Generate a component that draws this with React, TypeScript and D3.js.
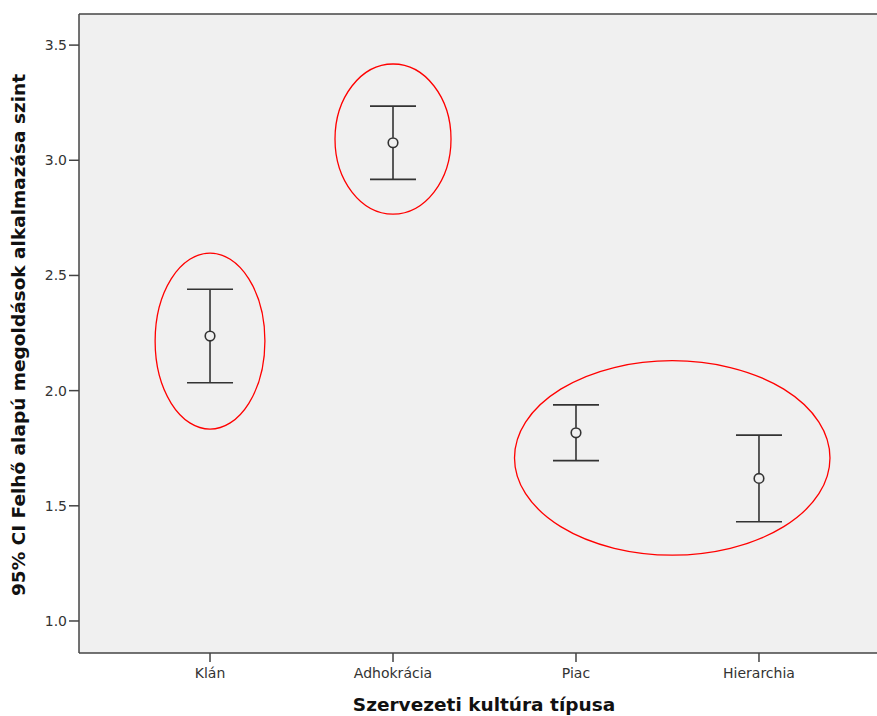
import React from "react";
import * as d3 from "d3";

// Organisational culture types and the 95% confidence intervals of the cloud adoption level
const categories = ["Klán", "Adhokrácia", "Piac", "Hierarchia"];
const means = [2.237, 3.076, 1.817, 1.619];
const lowerCI = [2.034, 2.917, 1.696, 1.431];
const upperCI = [2.440, 3.235, 1.938, 1.807];
const yTicks = [1.0, 1.5, 2.0, 2.5, 3.0, 3.5];

// Highlight rings, given in data units: centre (category index, value), radii (category steps, value units)
const ringCenterIndex = [0, 1, 2.526];
const ringCenterValue = [2.215, 3.092, 1.708];
const ringRadiusSteps = [0.3, 0.317, 0.862];
const ringRadiusValue = [0.382, 0.326, 0.422];

const W = 877;
const H = 716;
const FONT = "'DejaVu Sans', 'Open Sans', sans-serif";

export default function App() {
  const left = 79;
  const right = 890;
  const top = 14;
  const bottom = 653;

  const y = d3.scaleLinear().domain([0.861, 3.635]).range([bottom, top]);
  const x = d3.scalePoint<string>().domain(categories).range([left, right]).padding(0.716);
  const step = x.step();
  const xAt = (i: number) => (x(categories[0]) as number) + i * step;

  const capHalf = 23;
  const axisColor = "#444";
  const barColor = "#333";

  return (
    <svg
      width={W}
      height={H}
      style={{ position: "absolute", left: 0, top: 0, display: "block", background: "#fff" }}
    >
      <rect x={left} y={top} width={right - left} height={bottom - top} fill="#f0f0f0" />
      {/* frame */}
      <line x1={left} x2={right} y1={top} y2={top} stroke={axisColor} strokeWidth={1.5} />
      <line x1={left} x2={right} y1={bottom} y2={bottom} stroke={axisColor} strokeWidth={1.5} />
      <line x1={left} x2={left} y1={top} y2={bottom} stroke={axisColor} strokeWidth={1.5} />
      <line x1={right} x2={right} y1={top} y2={bottom} stroke={axisColor} strokeWidth={1.5} />

      {/* y axis */}
      {yTicks.map((t) => (
        <g key={t}>
          <line x1={left - 10} x2={left} y1={y(t)} y2={y(t)} stroke={axisColor} strokeWidth={1.5} />
          <text
            x={left - 12}
            y={y(t)}
            dy="0.36em"
            textAnchor="end"
            fontFamily={FONT}
            fontSize={14}
            fill="#333"
          >
            {t.toFixed(1)}
          </text>
        </g>
      ))}

      {/* x axis */}
      {categories.map((c) => (
        <g key={c}>
          <line x1={x(c)} x2={x(c)} y1={bottom} y2={bottom + 9} stroke={axisColor} strokeWidth={1.5} />
          <text
            x={x(c)}
            y={bottom + 25}
            textAnchor="middle"
            fontFamily={FONT}
            fontSize={14}
            fill="#333"
          >
            {c}
          </text>
        </g>
      ))}

      {/* error bars */}
      {categories.map((c, i) => {
        const cx = x(c) as number;
        return (
          <g key={c} stroke={barColor} strokeWidth={1.6} fill="none">
            <line x1={cx} x2={cx} y1={y(upperCI[i])} y2={y(means[i]) - 5} />
            <line x1={cx} x2={cx} y1={y(means[i]) + 5} y2={y(lowerCI[i])} />
            <line x1={cx - capHalf} x2={cx + capHalf} y1={y(upperCI[i])} y2={y(upperCI[i])} />
            <line x1={cx - capHalf} x2={cx + capHalf} y1={y(lowerCI[i])} y2={y(lowerCI[i])} />
            <circle cx={cx} cy={y(means[i])} r={4.8} />
          </g>
        );
      })}

      {/* highlight rings */}
      {ringCenterIndex.map((ci, k) => (
        <ellipse
          key={k}
          cx={xAt(ci)}
          cy={y(ringCenterValue[k])}
          rx={ringRadiusSteps[k] * step}
          ry={y(ringCenterValue[k] - ringRadiusValue[k]) - y(ringCenterValue[k])}
          fill="none"
          stroke="#ff0000"
          strokeWidth={1.3}
        />
      ))}

      {/* axis titles */}
      <text
        x={484}
        y={711}
        textAnchor="middle"
        fontFamily={FONT}
        fontWeight="bold"
        fontSize={18.5}
        fill="#111"
      >
        Szervezeti kultúra típusa
      </text>
      <text
        transform={`translate(25, ${335}) rotate(-90)`}
        textAnchor="middle"
        fontFamily={FONT}
        fontWeight="bold"
        fontSize={18.5}
        fill="#111"
      >
        95% CI Felhő alapú megoldások alkalmazása szint
      </text>
    </svg>
  );
}
